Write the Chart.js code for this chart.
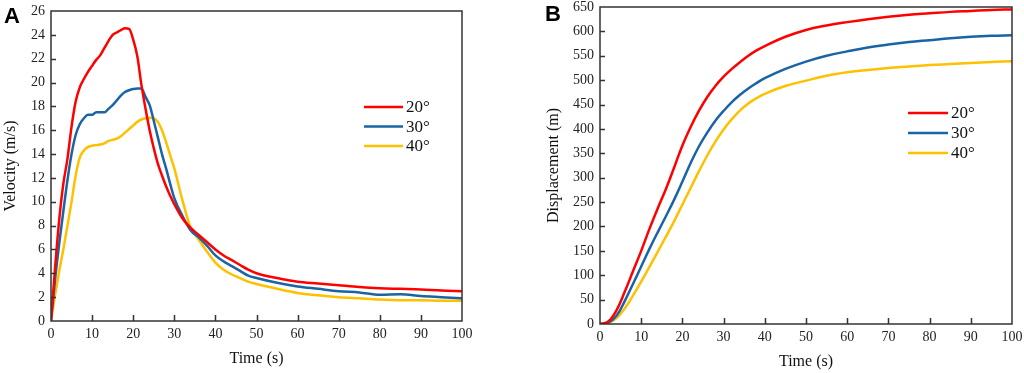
<!DOCTYPE html>
<html>
<head>
<meta charset="utf-8">
<script src="https://cdn.jsdelivr.net/npm/chart.js@4.4.0/dist/chart.umd.min.js"></script>
<style>
html, body { margin: 0; padding: 0; background: #fff; }
#wrap { position: relative; width: 1024px; height: 373px; overflow: hidden; }
canvas { position: absolute; top: 0; }
#velChart { left: 0; }
#dispChart { left: 530px; }
.tag { position: absolute; font-family: "Liberation Sans", Arial, sans-serif; font-weight: bold; font-size: 22px; line-height: 22px; color: #000; }
</style>
</head>
<body>
<div id="wrap">
  <canvas id="velChart" width="480" height="373"></canvas>
  <canvas id="dispChart" width="494" height="373"></canvas>
  <div class="tag" style="left:4px;top:5px;">A</div>
  <div class="tag" style="left:545px;top:3px;">B</div>
</div>
<script>
// Panel A - velocity
const velTime = [0, 1, 2, 3, 4, 5, 6, 7, 8, 9, 10, 11, 12, 13, 14, 15, 16, 17, 18, 19, 20,
  21, 22, 23, 24, 25, 26, 27, 28, 29, 30, 32, 34, 36, 38, 40, 42, 44, 46, 48, 50,
  55, 60, 65, 70, 75, 80, 85, 90, 95, 100];
const vel20 = [0, 4.5, 8.5, 11.5, 13.6, 16.3, 18.4, 19.6, 20.3, 20.9, 21.4, 21.9, 22.3, 22.9, 23.5, 24.0, 24.2, 24.4, 24.55, 24.5, 23.6,
  22.2, 19.8, 17.8, 16.0, 14.5, 13.2, 12.2, 11.3, 10.5, 9.8, 8.6, 7.8, 7.2, 6.6, 6.0, 5.5, 5.1, 4.7, 4.3, 4.0,
  3.6, 3.3, 3.15, 3.0, 2.85, 2.75, 2.7, 2.65, 2.55, 2.5];
const vel30 = [0, 3.5, 6.5, 9.2, 11.8, 14.0, 15.6, 16.5, 17.0, 17.3, 17.3, 17.5, 17.5, 17.5, 17.8, 18.1, 18.5, 18.9, 19.2, 19.35, 19.45,
  19.5, 19.5, 18.8, 18.1, 16.8, 15.4, 14.0, 12.8, 11.5, 10.3, 8.8, 7.6, 7.0, 6.3, 5.5, 5.0, 4.6, 4.2, 3.8, 3.6,
  3.2, 2.9, 2.7, 2.5, 2.4, 2.2, 2.25, 2.1, 2.0, 1.9];
const vel40 = [0, 2.2, 4.2, 6.0, 8.0, 10.0, 12.2, 13.7, 14.3, 14.6, 14.7, 14.75, 14.8, 14.9, 15.1, 15.2, 15.3, 15.5, 15.8, 16.1, 16.4,
  16.7, 16.9, 17.0, 17.05, 17.0, 16.7, 16.0, 15.0, 13.9, 12.8, 10.1, 7.8, 6.8, 5.8, 4.9, 4.3, 3.9, 3.6, 3.3, 3.1,
  2.7, 2.35, 2.15, 2.0, 1.9, 1.8, 1.75, 1.75, 1.7, 1.7];

// Panel B - displacement
const dispTime = [0, 2, 4, 6, 8, 10, 12, 14, 16, 18, 20, 22, 24, 26, 28, 30, 32, 34, 36, 38, 40,
  45, 50, 55, 60, 65, 70, 75, 80, 85, 90, 95, 100];
const disp20 = [0, 5, 28, 66, 108, 150, 195, 237, 277, 321, 366, 404, 437, 465, 488, 507, 523, 537, 550, 561, 570,
  589, 603, 612, 619, 625, 630, 634, 637, 640, 642, 644, 645];
const disp30 = [0, 3, 17, 47, 82, 118, 154, 188, 221, 255, 292, 330, 364, 392, 417, 437, 455, 470, 483, 494, 504,
  523, 538, 550, 559, 567, 573, 578, 582, 586, 589, 591, 592];
const disp40 = [0, 2, 12, 32, 58, 87, 117, 148, 179, 211, 245, 279, 313, 345, 374, 399, 420, 438, 452, 463, 472,
  488, 499, 509, 516, 521, 525, 528, 531, 533, 535, 537, 539];

const seriesLabels = ['20°', '30°', '40°'];
const seriesColors = ['#ff0000', '#1a64a6', '#ffc000'];
const AXIS = '#333333';
const SERIF = '"Liberation Serif", "Times New Roman", serif';

const pts = (xs, ys) => xs.map((x, i) => ({ x: x, y: ys[i] }));

// box, inward ticks and legend
const framePlugin = {
  id: 'frame',
  afterDraw(chart, args, opts) {
    const { ctx, chartArea: a, scales } = chart;
    ctx.save();
    ctx.strokeStyle = AXIS;
    ctx.lineWidth = 1.5;
    ctx.strokeRect(a.left, a.top, a.right - a.left, a.bottom - a.top);
    ctx.beginPath();
    scales.x.ticks.forEach(t => {
      const px = Math.round(scales.x.getPixelForValue(t.value)) + 0.5;
      if (px <= a.left + 2 || px >= a.right - 2) return;
      ctx.moveTo(px, a.bottom);
      ctx.lineTo(px, a.bottom - 6);
    });
    scales.y.ticks.forEach(t => {
      const py = Math.round(scales.y.getPixelForValue(t.value)) + 0.5;
      if (py <= a.top + 2 || py >= a.bottom - 2) return;
      ctx.moveTo(a.left, py);
      ctx.lineTo(a.left + 5, py);
    });
    ctx.stroke();

    // legend
    ctx.font = '17px ' + SERIF;
    ctx.textBaseline = 'middle';
    ctx.fillStyle = '#111';
    ctx.lineWidth = 2.5;
    chart.data.datasets.forEach((ds, i) => {
      const y = a.top + opts.ly + i * opts.gap;
      const x = a.left + opts.lx;
      ctx.strokeStyle = ds.borderColor;
      ctx.beginPath();
      ctx.moveTo(x, y);
      ctx.lineTo(x + opts.len, y);
      ctx.stroke();
      ctx.fillText(ds.label, x + opts.len + 3, y + 1);
    });
    ctx.restore();
  }
};

function makeDatasets(xs, list, smooth) {
  return list.map((ys, i) => ({
    label: seriesLabels[i],
    data: pts(xs, ys),
    borderColor: seriesColors[i],
    borderWidth: 2.5,
    pointRadius: 0,
    cubicInterpolationMode: smooth ? 'default' : 'monotone',
    tension: smooth ? 0.4 : 0,
    fill: false
  }));
}

function makeOptions(cfg) {
  return {
    responsive: false,
    animation: false,
    devicePixelRatio: 1,
    layout: { padding: { left: 0, top: cfg.top, right: cfg.right, bottom: 0 } },
    plugins: {
      legend: { display: false },
      tooltip: { enabled: false },
      frame: cfg.legend
    },
    scales: {
      x: {
        type: 'linear',
        min: 0, max: 100,
        grid: { display: false, drawTicks: false },
        border: { display: false },
        ticks: { stepSize: 10, padding: 6, color: '#222', maxRotation: 0, font: { family: SERIF, size: 14, lineHeight: 1 } },
        title: { display: true, text: 'Time (s)', color: '#111', font: { family: SERIF, size: 16 }, padding: { top: 0, bottom: cfg.xTitlePad } },
        afterFit: s => { s.height = cfg.xHeight; s.paddingLeft = 0; s.paddingRight = 0; }
      },
      y: {
        min: 0, max: cfg.yMax,
        grid: { display: false, drawTicks: false },
        border: { display: false },
        ticks: { stepSize: cfg.yStep, padding: 6, color: '#222', font: { family: SERIF, size: 14, lineHeight: 1 } },
        title: { display: true, text: cfg.yTitle, color: '#111', font: { family: SERIF, size: 16 }, padding: { top: cfg.yTitlePad, bottom: 0 } },
        afterFit: s => { s.width = cfg.yWidth; s.paddingTop = 0; s.paddingBottom = 0; }
      }
    }
  };
}

new Chart(document.getElementById('velChart'), {
  type: 'line',
  data: { datasets: makeDatasets(velTime, [vel20, vel30, vel40], false) },
  options: makeOptions({
    top: 11, right: 18, xHeight: 52, yWidth: 51, yMax: 26, yStep: 2,
    yTitle: 'Velocity (m/s)', yTitlePad: 1, xTitlePad: 5,
    legend: { lx: 313, ly: 96, gap: 19.5, len: 39 }
  }),
  plugins: [framePlugin]
});

new Chart(document.getElementById('dispChart'), {
  type: 'line',
  data: { datasets: makeDatasets(dispTime, [disp20, disp30, disp40], true) },
  options: makeOptions({
    top: 7, right: 12, xHeight: 49, yWidth: 70, yMax: 650, yStep: 50,
    yTitle: 'Displacement (m)', yTitlePad: 14, xTitlePad: 2,
    legend: { lx: 308, ly: 106, gap: 20, len: 40 }
  }),
  plugins: [framePlugin]
});
</script>
</body>
</html>
